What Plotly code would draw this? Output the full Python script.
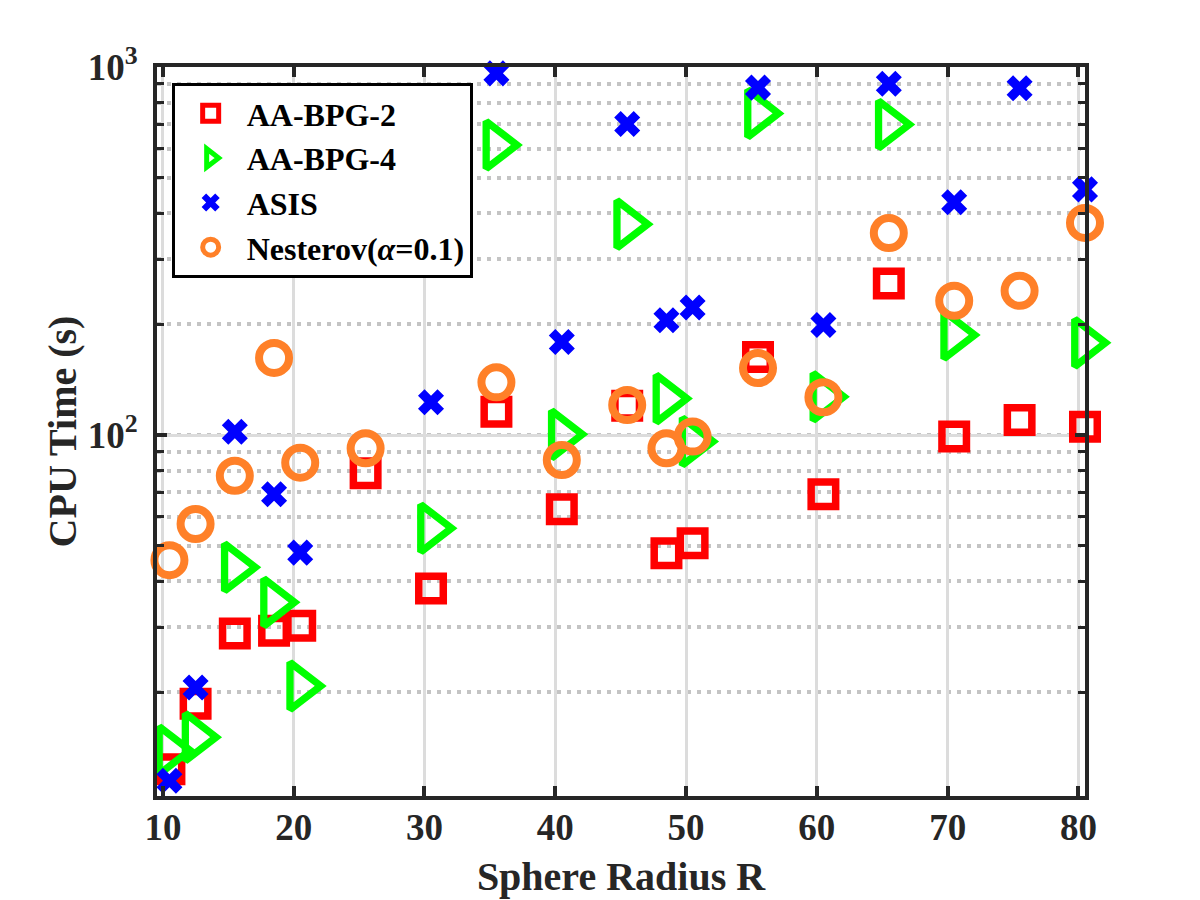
import plotly.graph_objects as go

# Data -----------------------------------------------------------------------------
radius = [10.5, 12.5, 15.5, 18.5, 20.5, 25.5, 30.5, 35.5, 40.5, 45.5,
          48.5, 50.5, 55.5, 60.5, 65.5, 70.5, 75.5, 80.5]

aa_bpg_2 = [12.35, 18.6, 28.9, 29.4, 30.3, 78.7, 38.3, 115.7, 62.8, 120.0,
            47.7, 50.8, 163.0, 69.0, 258.0, 99.0, 109.8, 105.3]
aa_bpg_4 = [13.9, 15.1, 43.7, 35.1, 20.8, 318.0, 55.8, 614.0, 100.4, 374.0,
            125.6, 96.0, 748.0, 127.0, 698.0, 187.0, None, 178.0]
asis = [11.5, 20.6, 102.0, 69.0, 47.9, None, 122.7, 961.0, 179.0, 700.0,
        205.0, 222.0, 879.0, 199.0, 900.0, 429.0, 875.0, 465.0]
nesterov = [45.7, 57.3, 77.5, 162.0, 84.1, 92.0, None, 139.0, 85.5, 120.6,
            92.0, 99.0, 152.0, 126.6, 354.0, 231.6, 246.6, 377.0]

x_ticks = [10, 20, 30, 40, 50, 60, 70, 80]
y_ticks = [100, 1000]
y_tick_text = ['10<sup>2</sup>', '10<sup>3</sup>']
# -----------------------------------------------------------------------------------

FONT = 'Liberation Serif'
INK = '#262626'

fig = go.Figure()

fig.add_trace(go.Scatter(x=radius, y=aa_bpg_2, mode='markers', name='AA-BPG-2', cliponaxis=False,
                         marker=dict(symbol='square-open', size=24.5, color='#ff0000',
                                     line=dict(width=7.5, color='#ff0000'))))
fig.add_trace(go.Scatter(x=radius, y=aa_bpg_4, mode='markers', name='AA-BPG-4', cliponaxis=False,
                         marker=dict(symbol='triangle-right-open', size=41, color='#00ff00',
                                     line=dict(width=7.3, color='#00ff00'))))
fig.add_trace(go.Scatter(x=radius, y=asis, mode='markers', name='ASIS', cliponaxis=False,
                         marker=dict(symbol='x', size=23, color='#0000ff', line=dict(width=0))))
fig.add_trace(go.Scatter(x=radius, y=nesterov, mode='markers', name='Nesterov(<i>α</i>=0.1)', cliponaxis=False,
                         marker=dict(symbol='circle-open', size=30, color='#ff8028',
                                     line=dict(width=8, color='#ff8028'))))

# page body adds ~8px offset, margins compensate for it
fig.update_layout(
    width=1200,
    height=900,
    autosize=False,
    margin=dict(l=149, r=123, t=59, b=112, autoexpand=False),
    plot_bgcolor='white',
    paper_bgcolor='white',
    font=dict(family=FONT, color=INK, weight='bold'),
    showlegend=True,
    legend=dict(x=0.0158, y=0.978, xanchor='left', yanchor='top',
                bgcolor='white', bordercolor='black', borderwidth=3,
                itemwidth=62,
                font=dict(family=FONT, size=32, color='black', weight='bold')),
)

fig.update_xaxes(
    range=[9.55, 80.5],
    tickvals=x_ticks,
    automargin=False,
    showgrid=True, gridcolor='#dcdcdc', gridwidth=3,
    showline=True, linecolor=INK, linewidth=4, mirror='ticks',
    ticks='inside', ticklen=10, tickwidth=4, tickcolor=INK,
    zeroline=False,
    tickfont=dict(size=37),
    ticklabelstandoff=-4,
    title=dict(text='Sphere Radius R', font=dict(size=40), standoff=16),
)

fig.update_yaxes(
    type='log',
    range=[1.019, 3.0],
    tickvals=y_ticks,
    ticktext=y_tick_text,
    automargin=False,
    showgrid=True, gridcolor='#dcdcdc', gridwidth=3,
    showline=True, linecolor=INK, linewidth=4, mirror='ticks',
    ticks='inside', ticklen=10, tickwidth=4, tickcolor=INK,
    zeroline=False,
    tickfont=dict(size=37),
    ticklabelstandoff=8,
    minor=dict(dtick='D1', showgrid=True, gridcolor='#c4c4c4', gridwidth=3.5, griddash='4px,6px',
               ticks='inside', ticklen=7, tickwidth=3, tickcolor=INK),
    title=dict(text='CPU Time (s)', font=dict(size=40), standoff=0),
)

fig.write_html("out.html")
